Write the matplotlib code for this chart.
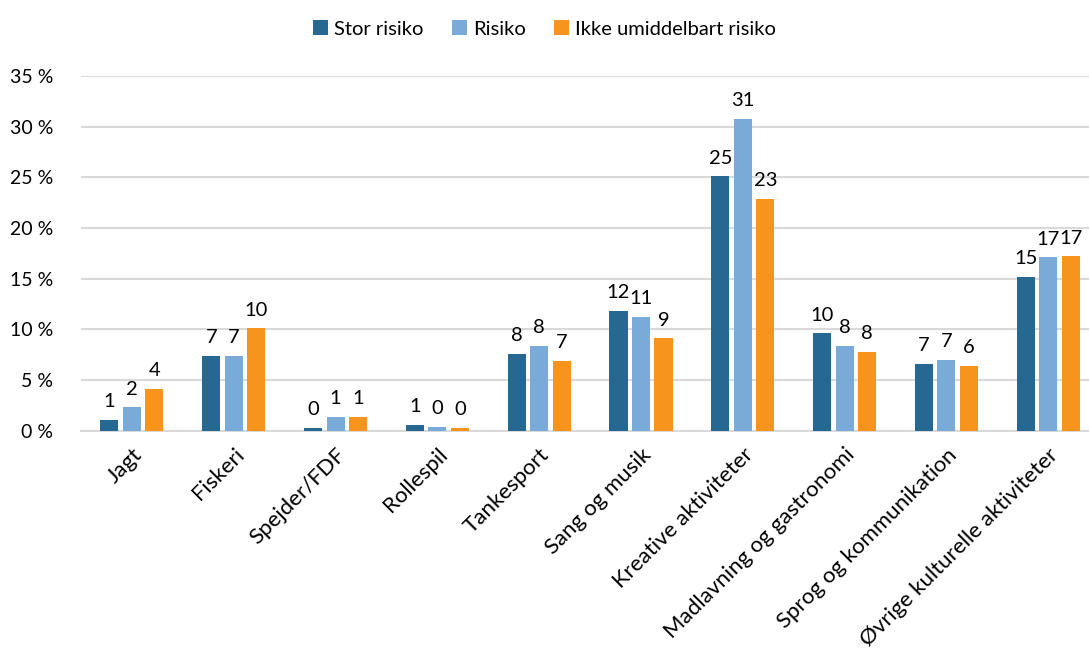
import matplotlib
matplotlib.use("Agg")
import matplotlib.pyplot as plt
import numpy as np

categories = ["Jagt", "Fiskeri", "Spejder/FDF", "Rollespil", "Tankesport",
              "Sang og musik", "Kreative aktiviteter", "Madlavning og gastronomi",
              "Sprog og kommunikation", "Øvrige kulturelle aktiviteter"]
series_names = ["Stor risiko", "Risiko", "Ikke umiddelbart risiko"]
stor_risiko = [1.1, 7.4, 0.3, 0.55, 7.6, 11.8, 25.1, 9.6, 6.6, 15.2]
risiko = [2.3, 7.4, 1.4, 0.4, 8.4, 11.2, 30.8, 8.4, 7.0, 17.1]
ikke_risiko = [4.1, 10.1, 1.4, 0.3, 6.9, 9.1, 22.9, 7.8, 6.4, 17.2]
y_ticks = [0, 5, 10, 15, 20, 25, 30, 35]

colors = ["#276892", "#79AAD8", "#F7941D"]

plt.rcParams["font.family"] = ["Lato", "DejaVu Sans"]

fig = plt.figure(figsize=(10.89, 6.48), dpi=100)
ax = fig.add_axes([81 / 1089, 217.3 / 648, (1089 - 81) / 1089, (430.7 - 76) / 648])

x = np.arange(len(categories))
width = 0.177
offset = 0.221
for i, (name, vals) in enumerate(zip(series_names, [stor_risiko, risiko, ikke_risiko])):
    bars = ax.bar(x + (i - 1) * offset, vals, width, color=colors[i], label=name, zorder=3)
    for b, v in zip(bars, vals):
        ax.annotate(f"{v:.0f}", (b.get_x() + b.get_width() / 2, v),
                    xytext=(0, 7), textcoords="offset points",
                    ha="center", va="bottom", fontsize=14.5, color="#000000")

ax.set_xlim(-0.5, 9.40)
ax.set_ylim(0, 35)
ax.set_yticks(y_ticks)
ax.set_yticklabels([f"{t} %" for t in y_ticks], fontsize=14)
ax.set_xticks(x)
ax.set_xticklabels(categories, rotation=45, ha="right", va="top",
                   rotation_mode="anchor", fontsize=16)
ax.tick_params(axis="both", length=0)
ax.tick_params(axis="y", pad=20)
ax.tick_params(axis="x", pad=10)
ax.yaxis.grid(True, color="#D9D9D9", linewidth=1.5, zorder=0)
ax.set_axisbelow(True)
for s in ["top", "right", "left"]:
    ax.spines[s].set_visible(False)
ax.spines["bottom"].set_color("#D9D9D9")
ax.spines["bottom"].set_linewidth(1.5)

fig.legend(loc="upper center", bbox_to_anchor=(0.5, 1.0), ncol=3, frameon=False,
           fontsize=14.5, handlelength=0.75, handleheight=0.75, handletextpad=0.3,
           columnspacing=1.4, borderaxespad=0.6)

fig.savefig("out.png", dpi=100)
